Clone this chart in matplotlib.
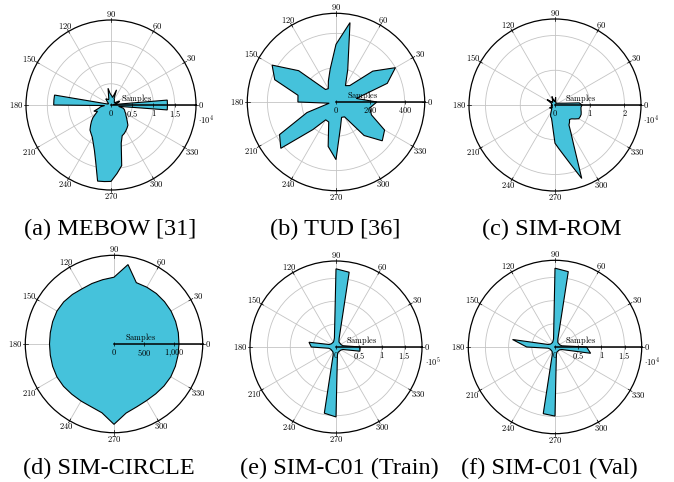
import numpy as np
import matplotlib.pyplot as plt

plt.rcParams['mathtext.fontset'] = 'cm'

W, H = 674, 482
fill_col = '#45c2db'
grid_col = '#c4c4c4'

# angle bins (deg)
ang5 = np.arange(0, 360, 5)
ang10 = np.arange(0, 360, 10)

# (a) MEBOW, samples x1e4
mebow = [1.33, 1.33, 0.06, 0.12, 0.20, 0.22, 0.12, 0.10, 0.10, 0.11, 0.12, 0.14,
         0.16, 0.17, 0.38, 0.22, 0.18, 0.22, 0.24, 0.28, 0.40, 0.22, 0.15, 0.14,
         0.15, 0.17, 0.19, 0.14, 0.10, 0.08, 0.07, 0.07, 0.07, 0.10, 1.35, 1.35,
         1.35, 0.15, 0.25, 0.30, 0.43, 0.35, 0.42, 0.52, 0.60, 0.68, 0.77, 0.82,
         0.88, 0.99, 1.14, 1.39, 1.82, 1.81, 1.80, 1.62, 1.45, 0.93, 0.77, 0.74,
         0.70, 0.66, 0.62, 0.54, 0.48, 0.43, 0.40, 0.36, 0.34, 0.30, 0.18, 1.33]

# (b) TUD, samples
tud = [238, 120, 318, 400, 280, 125, 110, 200, 470, 336, 195, 130,
       90, 95, 284, 430, 380, 225, 222, 40, 180, 380, 420, 210,
       120, 124, 263, 336, 150, 95, 100, 255, 352, 327, 220, 200]

# (c) SIM-ROM, samples x1e4
sim_rom = [0.78, 0.70, 0.30, 0.20, 0.15, 0.12, 0.10, 0.09, 0.08, 0.07, 0.06, 0.06,
           0.06, 0.06, 0.07, 0.08, 0.12, 0.22, 0.14, 0.10, 0.12, 0.14, 0.26, 0.16,
           0.12, 0.14, 0.10, 0.12, 0.16, 0.28, 0.18, 0.10, 0.12, 0.10, 0.09, 0.08,
           0.10, 0.08, 0.12, 0.10, 0.08, 0.10, 0.18, 0.12, 0.10, 0.16, 0.14, 0.18,
           0.22, 0.30, 0.36, 0.39, 0.49, 0.68, 1.10, 1.26, 1.47, 1.78, 2.25, 1.28,
           0.91, 0.70, 0.65, 0.59, 0.62, 0.70, 0.79, 0.80, 0.80, 0.78, 0.76, 0.75]

# (d) SIM-CIRCLE, samples
sim_circle = [1080, 1085, 1090, 1095, 1095, 1095, 1090, 1085, 1340, 1110, 1085, 1070,
              1060, 1075, 1090, 1095, 1085, 1075, 1072, 1075, 1085, 1095, 1095, 1090,
              1095, 1110, 1160, 1335, 1165, 1110, 1085, 1080, 1085, 1090, 1085, 1080]

# (e) SIM-C01 train, samples x1e5
c01_train = [0.53, 0.16, 0.13, 0.12, 0.12, 0.12, 0.13, 0.20, 1.66, 1.71, 0.20, 0.14,
             0.12, 0.12, 0.12, 0.13, 0.16, 0.60, 0.54, 0.16, 0.13, 0.12, 0.12, 0.12,
             0.13, 0.18, 1.47, 1.53, 0.18, 0.13, 0.12, 0.12, 0.12, 0.13, 0.16, 0.53]

# (f) SIM-C01 val, samples x1e4
c01_val = [0.68, 0.15, 0.12, 0.11, 0.11, 0.11, 0.12, 0.18, 1.65, 1.70, 0.18, 0.13,
           0.11, 0.11, 0.11, 0.12, 0.16, 0.93, 0.61, 0.15, 0.12, 0.11, 0.11, 0.11,
           0.12, 0.17, 1.46, 1.49, 0.17, 0.12, 0.11, 0.11, 0.11, 0.12, 0.16, 0.78]

fig = plt.figure(figsize=(W / 100, H / 100), dpi=100)


def panel(cx, cy, R, ang, vals, ticks, labels, mult, caption, cap_x, cap_y):
    ax = fig.add_axes([(cx - R) / W, 1 - (cy + R) / H, 2 * R / W, 2 * R / H],
                      projection='polar')
    th = np.deg2rad(np.append(ang, ang[0]))
    r = np.append(vals, vals[0])
    rmax = 1.1 * max(vals)
    ax.fill(th, r, facecolor=fill_col, edgecolor='black', lw=0.8, zorder=3)
    ax.set_ylim(0, rmax)
    ax.set_yticks(ticks[1:])
    ax.set_yticklabels([])
    ax.set_xticks(np.deg2rad(np.arange(0, 360, 30)))
    ax.set_xticklabels([])
    ax.tick_params(length=0)
    ax.grid(color=grid_col, lw=0.6)
    ax.spines['polar'].set_linewidth(0.9)

    # radial axis along 0 deg
    ax.plot([0, 0], [0, rmax], color='black', lw=1.1, zorder=5, clip_on=False)
    ax.plot(np.zeros(len(ticks)), ticks, ls='none', marker='|', ms=3,
            mew=0.5, color='black', zorder=5)
    for t, lb in zip(ticks, labels):
        ax.annotate(lb, xy=(0, t), xytext=(0, -2.5), textcoords='offset points',
                    ha='center', va='top', fontsize=6, zorder=6)
    ax.annotate(r'$\mathrm{Samples}$', xy=(0, 0), xytext=(0.3 * R * 0.72, 4.5),
                textcoords='offset points', ha='center', va='center', fontsize=6,
                zorder=6)
    if mult:
        ax.annotate(mult, xy=(0, rmax), xytext=(7.5, -10.5),
                    textcoords='offset points', ha='center', va='center',
                    fontsize=6, annotation_clip=False)

    # angle labels outside the circle
    fs = 6.2
    for a in range(0, 360, 30):
        t = np.deg2rad(a)
        c, s = np.cos(t), np.sin(t)
        w = 0.25 * fs * len(str(a))
        h = 0.34 * fs
        dw = w / abs(c) if abs(c) > 1e-6 else 1e9
        dh = h / abs(s) if abs(s) > 1e-6 else 1e9
        d = 2.2 + min(dw, dh)
        ax.annotate(f'${a}$', xy=(t, rmax), xytext=(d * c, d * s),
                    textcoords='offset points', ha='center', va='center',
                    fontsize=fs, annotation_clip=False)
        ax.plot([t, t], [rmax * 0.975, rmax * 1.025], color='black', lw=0.5,
                clip_on=False, zorder=5)

    fig.text(cap_x / W, 1 - cap_y / H, caption, ha='center', va='center',
             fontsize=17.5, family='Liberation Serif')


panel(111, 105, 85, ang5, mebow, [0, 0.5, 1, 1.5],
      ['$0$', '$0.5$', '$1$', '$1.5$'], r'$\cdot 10^{4}$',
      '(a) MEBOW [31]', 110, 229)
panel(336, 102, 88.7, ang10, tud, [0, 200, 400],
      ['$0$', '$200$', '$400$'], None,
      '(b) TUD [36]', 335, 229)
panel(555, 105, 86, ang5, sim_rom, [0, 1, 2],
      ['$0$', '$1$', '$2$'], r'$\cdot 10^{4}$',
      '(c) SIM-ROM', 552, 229)
panel(114, 344, 88.7, ang10, sim_circle, [0, 500, 1000],
      ['$0$', '$500$', '$1{,}000$'], None,
      '(d) SIM-CIRCLE', 109, 468)
panel(336, 347, 86, ang10, c01_train, [0, 0.5, 1, 1.5],
      ['$0$', '$0.5$', '$1$', '$1.5$'], r'$\cdot 10^{5}$',
      '(e) SIM-C01 (Train)', 339, 468)
panel(555, 347, 86.7, ang10, c01_val, [0, 0.5, 1, 1.5],
      ['$0$', '$0.5$', '$1$', '$1.5$'], r'$\cdot 10^{4}$',
      '(f) SIM-C01 (Val)', 549, 468)

fig.savefig('out.png', dpi=100)
